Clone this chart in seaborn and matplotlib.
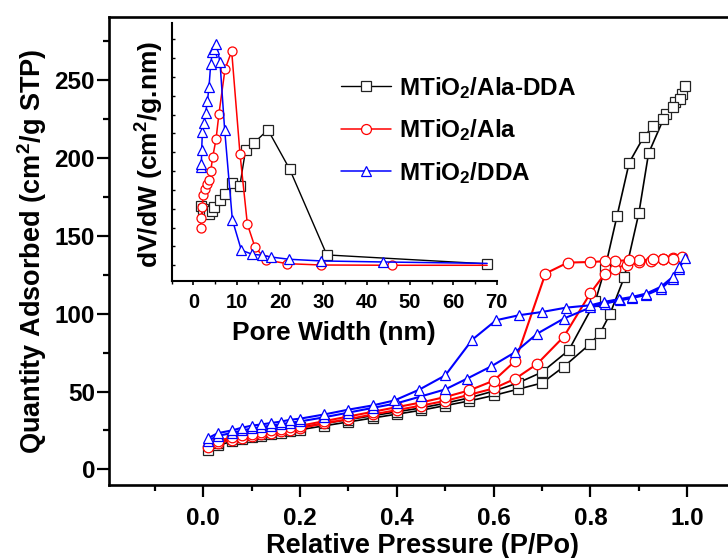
import numpy as np
import pandas as pd
import matplotlib
matplotlib.use("Agg")
import matplotlib.pyplot as plt
import seaborn as sns
from matplotlib.ticker import MultipleLocator, FixedLocator, NullFormatter

# ---------------- data: N2 isotherms (main) ----------------
ala_dda_p_ads = [0.01, 0.03, 0.06, 0.08, 0.10, 0.12, 0.14, 0.16, 0.18, 0.20, 0.25, 0.30, 0.35, 0.40,
                 0.45, 0.50, 0.55, 0.60, 0.65, 0.70, 0.745, 0.80, 0.82, 0.84, 0.87, 0.90, 0.92, 0.955,
                 0.975, 0.99, 0.995]
ala_dda_q_ads = [12.3, 15.5, 18.0, 19.5, 20.5, 21.5, 22.5, 23.5, 24.5, 25.5, 28.0, 30.5, 33.0, 35.5,
                 38.0, 41.0, 44.0, 47.5, 51.5, 55.5, 66.0, 80.8, 87.6, 99.6, 123.6, 164.7, 203.0, 228.0,
                 236.0, 241.0, 246.0]
ala_dda_p_des = [0.985, 0.97, 0.95, 0.93, 0.91, 0.88, 0.855, 0.83, 0.81, 0.755, 0.70, 0.65, 0.60,
                 0.55, 0.50, 0.45, 0.40, 0.35, 0.30, 0.25, 0.20, 0.18, 0.16, 0.14, 0.12, 0.10, 0.08,
                 0.06, 0.03]
ala_dda_q_des = [238.0, 233.0, 225.0, 220.4, 213.6, 197.0, 163.0, 129.0, 108.0, 76.5, 62.5, 55.5, 50.3,
                 46.0, 42.5, 39.5, 37.0, 34.5, 32.0, 29.5, 27.0, 26.0, 25.0, 24.0, 23.0, 22.0, 21.0,
                 19.5, 17.0]

ala_p_ads = [0.01, 0.03, 0.06, 0.08, 0.10, 0.12, 0.14, 0.16, 0.18, 0.20, 0.25, 0.30, 0.35, 0.40, 0.45,
             0.50, 0.55, 0.60, 0.645, 0.69, 0.745, 0.80, 0.83, 0.85, 0.875, 0.90, 0.925, 0.95, 0.97, 0.99]
ala_q_ads = [14.3, 16.9, 19.1, 20.4, 21.2, 22.5, 23.3, 24.6, 25.3, 26.4, 29.6, 32.3, 35.3, 38.1, 41.0,
             44.0, 48.0, 52.0, 58.3, 67.8, 85.3, 113.3, 125.8, 129.0, 131.5, 133.0, 134.0, 135.0, 135.5,
             136.5]
ala_p_des = [0.97, 0.95, 0.93, 0.90, 0.88, 0.85, 0.83, 0.80, 0.753, 0.707, 0.645, 0.60, 0.55, 0.50,
             0.45, 0.40, 0.35, 0.30, 0.25, 0.20, 0.18, 0.16, 0.14, 0.12, 0.10, 0.08, 0.06, 0.03]
ala_q_des = [135.4, 134.8, 134.8, 134.3, 134.3, 133.9, 133.7, 133.2, 132.8, 125.8, 69.8, 57.0, 50.8,
             46.5, 43.0, 40.0, 37.0, 34.0, 31.0, 28.0, 27.0, 26.0, 25.0, 24.0, 23.0, 22.0, 20.5, 18.5]

dda_p_ads = [0.01, 0.03, 0.06, 0.08, 0.10, 0.12, 0.14, 0.16, 0.18, 0.20, 0.25, 0.30, 0.35, 0.40, 0.45,
             0.50, 0.545, 0.595, 0.645, 0.69, 0.745, 0.80, 0.83, 0.86, 0.885, 0.915, 0.945, 0.97, 0.983,
             0.995]
dda_q_ads = [18.5, 21.5, 23.5, 25.0, 26.3, 27.2, 28.2, 29.0, 30.0, 30.8, 33.5, 36.5, 39.5, 42.5, 46.9,
             51.4, 58.3, 66.2, 75.4, 87.2, 96.9, 104.0, 106.5, 108.5, 110.0, 112.0, 116.0, 122.5, 129.0,
             135.5]
dda_p_des = [0.983, 0.97, 0.945, 0.915, 0.885, 0.858, 0.827, 0.80, 0.75, 0.70, 0.652, 0.605, 0.556,
             0.50, 0.446, 0.395, 0.35, 0.30, 0.25, 0.20, 0.18, 0.16, 0.14, 0.12, 0.10, 0.08, 0.06, 0.03,
             0.01]
dda_q_des = [130.0, 123.6, 117.2, 112.9, 110.7, 109.3, 107.5, 105.4, 103.9, 101.1, 99.0, 95.8, 83.4,
             60.4, 51.2, 44.3, 41.1, 38.4, 35.3, 32.6, 31.9, 30.7, 29.8, 28.9, 28.1, 26.8, 25.1, 23.3,
             20.1]

# ---------------- data: pore size distribution (inset) ----------------
ala_dda_w = [1.68, 2.3, 3.07, 3.6, 4.2, 4.77, 6.07, 7.22, 8.84, 10.7, 12.07, 14.0, 17.2, 22.2, 30.8, 67.8]
ala_dda_v = [0.0625, 0.0597, 0.0565, 0.0544, 0.0579, 0.0614, 0.0693, 0.0757, 0.0874, 0.0838, 0.1229,
             0.1300, 0.1439, 0.1023, 0.0110, 0.0015]
ala_w = [1.68, 1.85, 2.08, 2.22, 2.61, 3.07, 3.6, 4.0, 4.45, 5.22, 5.91, 7.3, 8.84, 10.76, 12.46, 14.2,
         16.8, 21.7, 29.4, 45.9, 67.8]
ala_v = [0.0401, 0.0507, 0.0614, 0.0746, 0.0810, 0.0863, 0.0909, 0.0998, 0.1147, 0.1336, 0.1610,
         0.2082, 0.2274, 0.1183, 0.0437, 0.0195, 0.0056, 0.0017, 0.0003, 0.0, 0.0]
dda_w = [1.68, 1.85, 1.92, 2.08, 2.45, 2.84, 3.23, 3.6, 4.0, 4.38, 4.77, 5.3, 6.14, 7.22, 9.0, 11.07,
         13.6, 15.76, 17.84, 22.07, 29.5, 43.85, 67.8]
dda_v = [0.104, 0.108, 0.1226, 0.142, 0.151, 0.162, 0.174, 0.189, 0.2135, 0.2266, 0.230, 0.2345, 0.216,
         0.144, 0.0483, 0.016, 0.0117, 0.0107, 0.0088, 0.0064, 0.0046, 0.0035, 0.002]

labels = [r"MTiO$_2$/Ala-DDA", r"MTiO$_2$/Ala", r"MTiO$_2$/DDA"]
x_ticks = [0.0, 0.2, 0.4, 0.6, 0.8, 1.0]
y_ticks = [0, 50, 100, 150, 200, 250]
inset_x_ticks = [0, 10, 20, 30, 40, 50, 60, 70]

# ---------------- style ----------------
sns.set_theme(style="ticks")
plt.rcParams.update({
    "font.family": ["Liberation Sans", "DejaVu Sans"],
    "font.weight": "bold",
    "axes.labelweight": "bold",
    "mathtext.fontset": "custom",
    "mathtext.rm": "Liberation Sans:bold",
    "mathtext.bf": "Liberation Sans:bold",
    "mathtext.it": "Liberation Sans:bold:italic",
    "mathtext.default": "rm",
    "axes.edgecolor": "black",
    "xtick.color": "black",
    "ytick.color": "black",
    "text.color": "black",
    "axes.labelcolor": "black",
})

fig = plt.figure(figsize=(7.28, 5.58), dpi=100)
W, H = 728.0, 558.0

# main axes (right edge extends past the canvas, as in the cropped reference)
ax = fig.add_axes([108.9 / W, (H - 485) / H, 626.8 / W, 468 / H])


def loop_frame(p_ads, q_ads, p_des, q_des):
    return pd.DataFrame({"P": list(p_ads) + list(p_des), "Q": list(q_ads) + list(q_des)})


series_main = [
    (loop_frame(ala_dda_p_ads, ala_dda_q_ads, ala_dda_p_des, ala_dda_q_des), "black", "#222222", "s", 6.8, 1.2),
    (loop_frame(ala_p_ads, ala_q_ads, ala_p_des, ala_q_des), "#ff0000", "#ff0000", "o", 7.6, 1.5),
    (loop_frame(dda_p_ads, dda_q_ads, dda_p_des, dda_q_des), "#0000ff", "#0000ff", "^", 7.8, 1.5),
]
for df, c, ec, m, ms, lw in series_main:
    sns.lineplot(data=df, x="P", y="Q", sort=False, estimator=None, ax=ax, color=c, linewidth=lw,
                 marker=m, markersize=ms, markerfacecolor="white", markeredgecolor=ec,
                 markeredgewidth=0.9, legend=False)

ax.set_xlim(-0.195, 1.1)
ax.set_ylim(-10, 290.5)
ax.xaxis.set_major_locator(FixedLocator(x_ticks))
ax.xaxis.set_minor_locator(MultipleLocator(0.1))
ax.yaxis.set_major_locator(FixedLocator(y_ticks))
ax.yaxis.set_minor_locator(MultipleLocator(25))
ax.set_xticklabels([f"{v:.1f}" for v in x_ticks])
ax.set_yticklabels([str(v) for v in y_ticks])
for s in ["left", "bottom", "top"]:
    ax.spines[s].set_linewidth(1.9)
ax.spines["right"].set_visible(False)
ax.tick_params(which="both", direction="out", width=1.6, top=False, right=False)
ax.tick_params(which="major", length=8.5, labelsize=17.5)
ax.tick_params(which="minor", length=4.5)
ax.tick_params(axis="x", which="major", pad=7)
ax.tick_params(axis="y", which="major", pad=1.5)
for t in ax.get_xticklabels() + ax.get_yticklabels():
    t.set_fontweight("bold")

ax.set_xlabel("Relative Pressure (P/Po)", fontsize=19.5, fontweight="bold", va="center")
ax.xaxis.set_label_coords(0.5, (485 - 546) / 468)
ax.set_ylabel(r"Quantity Adsorbed (cm$^2$/g STP)", fontsize=19.5, fontweight="bold", va="center")
ax.yaxis.set_label_coords((32 - 108.9) / 626.8, 0.5)

# inset axes
ins = fig.add_axes([171.7 / W, (H - 281) / H, 325 / W, (281 - 23.3) / H])
ins.patch.set_alpha(0)
series_inset = [
    (pd.DataFrame({"w": ala_dda_w, "v": ala_dda_v}), "black", "#222222", "s", 6.5, 1.0, labels[0], None),
    (pd.DataFrame({"w": ala_w, "v": ala_v}), "#ff0000", "#ff0000", "o", 6.5, 1.1, labels[1],
     list(range(len(ala_w) - 1))),
    (pd.DataFrame({"w": dda_w, "v": dda_v}), "#0000ff", "#0000ff", "^", 7.0, 1.1, labels[2],
     list(range(len(dda_w) - 1))),
]
for df, c, ec, m, ms, lw, lab, me in series_inset:
    kw = {}
    if me is not None:
        kw["markevery"] = me
    sns.lineplot(data=df, x="w", y="v", sort=False, estimator=None, ax=ins, color=c, linewidth=lw,
                 marker=m, markersize=ms, markerfacecolor="white", markeredgecolor=ec,
                 markeredgewidth=0.9, label=lab, legend=False, **kw)

ins.set_xlim(-5, 70)
ins.set_ylim(-0.0167, 0.257)
ins.xaxis.set_major_locator(FixedLocator(inset_x_ticks))
ins.xaxis.set_minor_locator(MultipleLocator(5))
ins.set_xticklabels([str(v) for v in inset_x_ticks])
ins.yaxis.set_major_locator(MultipleLocator(0.02))
ins.yaxis.set_major_formatter(NullFormatter())
ins.spines["top"].set_visible(False)
ins.spines["right"].set_visible(False)
for s in ["left", "bottom"]:
    ins.spines[s].set_linewidth(1.5)
ins.tick_params(axis="x", which="major", direction="out", length=3, width=1.2, labelsize=14.5, pad=5.5)
ins.tick_params(axis="x", which="minor", direction="out", length=2, width=1.0)
ins.tick_params(axis="y", which="major", direction="in", length=2.2, width=1.0, left=True)
for t in ins.get_xticklabels():
    t.set_fontweight("bold")
ins.set_xlabel("Pore Width (nm)", fontsize=19, fontweight="bold", va="center")
ins.xaxis.set_label_coords(0.5, (281 - 333) / 257.7)
ins.set_ylabel(r"dV/dW (cm$^2$/g.nm)", fontsize=19, fontweight="bold", va="center")
ins.yaxis.set_label_coords((150 - 171.7) / 325, 0.49)

handles = ins.get_lines()[:3]
leg = ins.legend(handles, labels, loc="upper left", bbox_to_anchor=(341 / W, (H - 75) / H),
                 bbox_transform=fig.transFigure, frameon=False, fontsize=17.5, handlelength=2.05,
                 handletextpad=0.35, labelspacing=0.68, borderpad=0, borderaxespad=0, markerscale=1.1)
for t in leg.get_texts():
    t.set_fontweight("bold")

fig.savefig("out.png", dpi=100)
